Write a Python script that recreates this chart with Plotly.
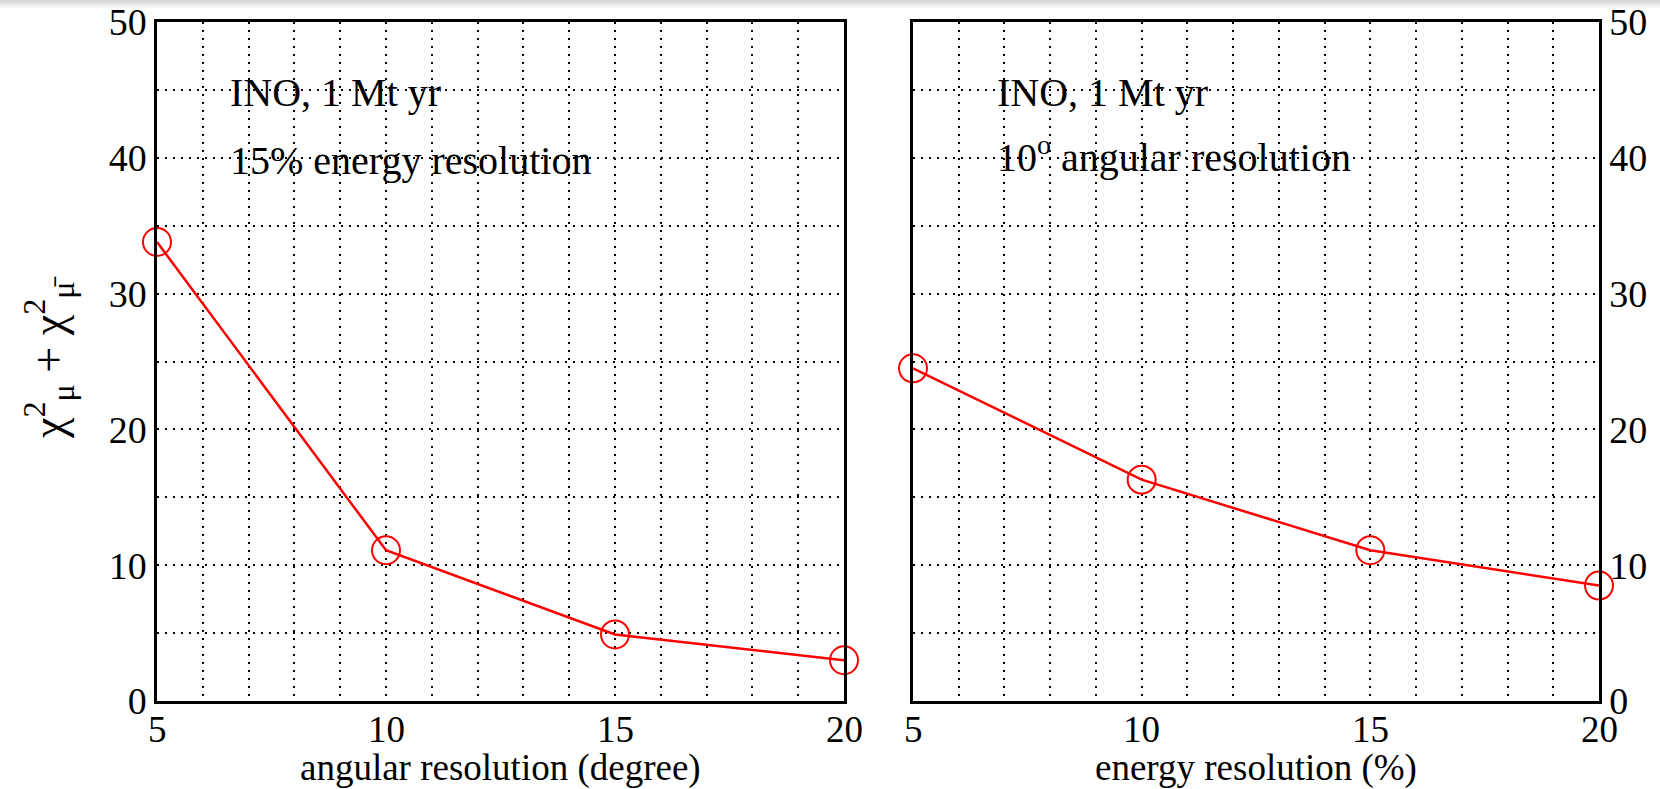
import plotly.graph_objects as go

# ---- data ----
ang_res = [5, 10, 15, 20]
chi2_vs_ang = [33.8, 11.1, 4.9, 3.0]
en_res = [5, 10, 15, 20]
chi2_vs_en = [24.5, 16.3, 11.1, 8.5]

x_ticks = [5, 10, 15, 20]
x_tick_labels = ["5", "10", "15", "20"]
y_ticks = [0, 10, 20, 30, 40, 50]

left_title = "angular resolution (degree)"
right_title = "energy resolution (%)"
y_title = "χ<sup>2</sup><sub>μ</sub> + χ<sup>2</sup><sub>μ̄</sub>"
left_notes = ["INO, 1 Mt yr", "15% energy resolution"]
right_notes = ["INO, 1 Mt yr", "10<sup>o</sup> angular resolution"]

W, H = 1660, 789
FONT = "Liberation Serif, Times New Roman, serif"

def px_x(p):
    return p / W

def px_y(p):
    return 1 - p / H

fig = go.Figure()

line_style = dict(color="#ff0000", width=2.5)
marker_style = dict(symbol="circle-open", size=28, color="#ff0000", line=dict(width=2, color="#ff0000"))

fig.add_trace(go.Scatter(x=ang_res, y=chi2_vs_ang, mode="lines+markers",
                         line=line_style, marker=marker_style, cliponaxis=False,
                         xaxis="x", yaxis="y", showlegend=False))
fig.add_trace(go.Scatter(x=en_res, y=chi2_vs_en, mode="lines+markers",
                         line=line_style, marker=marker_style, cliponaxis=False,
                         xaxis="x2", yaxis="y2", showlegend=False))

x_dom1 = [px_x(157), px_x(844)]
x_dom2 = [px_x(913), px_x(1599)]
y_dom = [px_y(701), px_y(22)]

GRID_DASH = "2px,6px"
common_x = dict(range=[5, 20], tickvals=x_ticks, showticklabels=False, showline=True,
                linecolor="black", linewidth=2.5,
                mirror=True, showgrid=True, gridcolor="black", griddash=GRID_DASH, gridwidth=2,
                minor=dict(dtick=1, showgrid=True, gridcolor="black", griddash=GRID_DASH, gridwidth=2),
                ticks="", zeroline=False, automargin=False)
common_y = dict(range=[0, 50], tickvals=y_ticks, showline=True, linecolor="black", linewidth=2.5,
                mirror=True, showgrid=True, gridcolor="black", griddash=GRID_DASH, gridwidth=2,
                minor=dict(dtick=5, showgrid=True, gridcolor="black", griddash=GRID_DASH, gridwidth=2),
                ticks="", zeroline=False, domain=y_dom, automargin=False,
                tickfont=dict(family=FONT, size=38, color="black"))

fig.update_layout(
    width=W, height=H,
    margin=dict(l=0, r=0, t=0, b=0, pad=0),
    paper_bgcolor="white", plot_bgcolor="white",
    font=dict(family=FONT, color="black"),
    xaxis=dict(common_x, domain=x_dom1, anchor="y"),
    yaxis=dict(common_y, anchor="x", side="left"),
    xaxis2=dict(common_x, domain=x_dom2, anchor="y2"),
    yaxis2=dict(common_y, anchor="x2", side="right"),
)

annots = []
# x tick labels, placed close under each axis
for xr in ("x", "x2"):
    for v, lab in zip(x_ticks, x_tick_labels):
        annots.append(dict(text=lab, xref=xr, yref="paper", x=v, y=px_y(729),
                           showarrow=False, xanchor="center", yanchor="middle",
                           font=dict(family=FONT, size=37, color="black")))
# axis titles
annots.append(dict(text=left_title, xref="paper", yref="paper", x=(x_dom1[0] + x_dom1[1]) / 2,
                   y=px_y(768), showarrow=False, font=dict(family=FONT, size=37, color="black"),
                   xanchor="center", yanchor="middle"))
annots.append(dict(text=right_title, xref="paper", yref="paper", x=(x_dom2[0] + x_dom2[1]) / 2,
                   y=px_y(768), showarrow=False, font=dict(family=FONT, size=37, color="black"),
                   xanchor="center", yanchor="middle"))
annots.append(dict(text=y_title, xref="paper", yref="paper", x=px_x(48), y=px_y(358),
                   textangle=-90, showarrow=False, font=dict(family=FONT, size=46, color="black"),
                   xanchor="center", yanchor="middle"))
# in-panel notes
for t, yv in zip(left_notes, [44.8, 39.8]):
    annots.append(dict(text=t, xref="x", yref="y", x=6.55, y=yv, showarrow=False,
                       xanchor="left", yanchor="middle",
                       font=dict(family=FONT, size=40, color="black")))
for t, yv in zip(right_notes, [44.8, 40.25]):
    annots.append(dict(text=t, xref="x2", yref="y2", x=6.8, y=yv, showarrow=False,
                       xanchor="left", yanchor="middle",
                       font=dict(family=FONT, size=40, color="black")))
fig.update_layout(annotations=annots)

# faint grey band along the top edge
for i, c in enumerate(["#d6d6d6", "#e2e2e2", "#ececec", "#f6f6f6"]):
    fig.add_shape(type="rect", xref="paper", yref="paper", x0=0, x1=1,
                  y0=px_y(2 * i + 2), y1=px_y(2 * i),
                  fillcolor=c, line=dict(width=0), layer="below")

fig.write_html("out.html")
